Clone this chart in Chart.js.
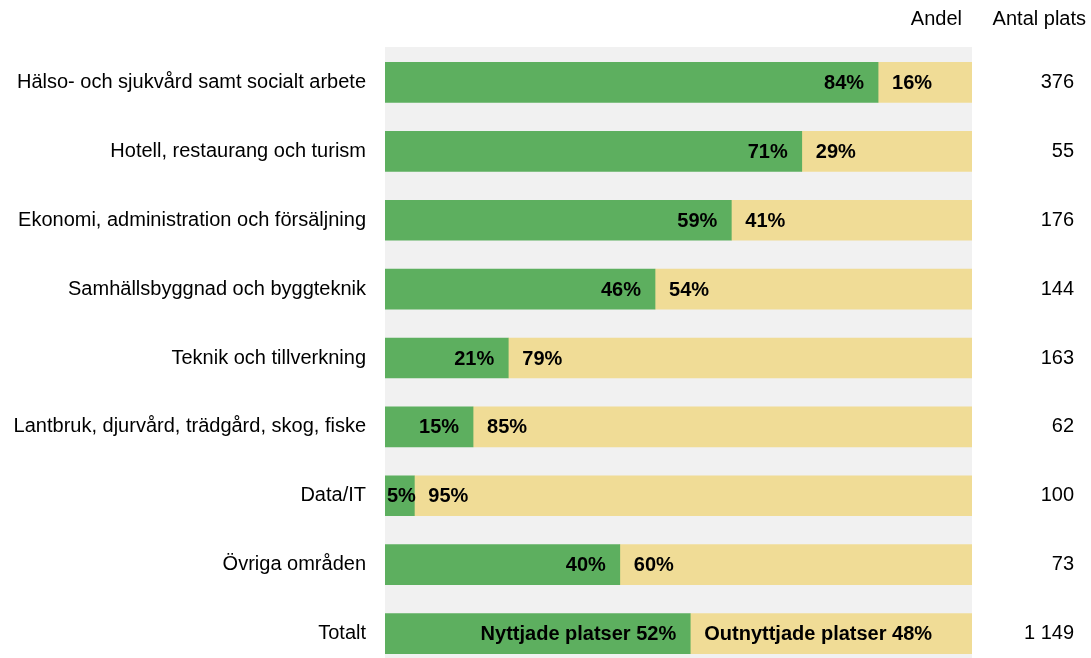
<!DOCTYPE html>
<html>
<head>
<meta charset="utf-8">
<script src="https://cdn.jsdelivr.net/npm/chart.js@4"></script>
<style>
  html, body { margin: 0; padding: 0; background: #fff; overflow: hidden; }
  #wrap { width: 1091px; height: 658px; overflow: hidden; }
</style>
</head>
<body>
<div id="wrap"><canvas id="chart" width="1091" height="699"></canvas></div>
<script>
// data
const categories = [
  "Hälso- och sjukvård samt socialt arbete",
  "Hotell, restaurang och turism",
  "Ekonomi, administration och försäljning",
  "Samhällsbyggnad och byggteknik",
  "Teknik och tillverkning",
  "Lantbruk, djurvård, trädgård, skog, fiske",
  "Data/IT",
  "Övriga områden",
  "Totalt"
];
const usedShare = [84, 71, 59, 46, 21, 15, 5, 40, 52];
const unusedShare = [16, 29, 41, 54, 79, 85, 95, 60, 48];
const placeCounts = ["376", "55", "176", "144", "163", "62", "100", "73", "1 149"];
const seriesNames = ["Nyttjade platser", "Outnyttjade platser"];
const headers = ["Andel", "Antal plats"];

const FONT = "'Liberation Sans', Arial, Helvetica, sans-serif";
const GREEN = "#5daf5f";
const YELLOW = "#f0dc96";

// gray band behind the bars
const bgPlugin = {
  id: "bgBand",
  beforeDraw(chart) {
    const { ctx, chartArea } = chart;
    ctx.save();
    ctx.fillStyle = "#f1f1f1";
    ctx.fillRect(chartArea.left, chartArea.top - 1, chartArea.right - chartArea.left, chartArea.bottom - chartArea.top + 1);
    ctx.restore();
  }
};

// percent labels on bars, headers and the right count column
const labelPlugin = {
  id: "barLabels",
  afterDatasetsDraw(chart) {
    const { ctx } = chart;
    const last = categories.length - 1;
    ctx.save();
    ctx.font = "bold 20px " + FONT;
    ctx.fillStyle = "#000";
    ctx.textBaseline = "middle";

    chart.getDatasetMeta(0).data.forEach((bar, i) => {
      let txt = usedShare[i] + "%";
      if (i === last) txt = seriesNames[0] + " " + txt;
      const w = ctx.measureText(txt).width;
      const x = Math.max(bar.x - 14, bar.base + w + 2);
      ctx.textAlign = "right";
      ctx.fillText(txt, x, bar.y + 1);
    });
    chart.getDatasetMeta(1).data.forEach((bar, i) => {
      let txt = unusedShare[i] + "%";
      if (i === last) txt = seriesNames[1] + " " + txt;
      ctx.textAlign = "left";
      ctx.fillText(txt, bar.base + 14, bar.y + 1);
    });

    // right column
    ctx.font = "20px " + FONT;
    ctx.textAlign = "right";
    chart.getDatasetMeta(0).data.forEach((bar, i) => {
      ctx.fillText(placeCounts[i], 1074, bar.y);
    });

    // headers
    ctx.fillText(headers[0], 962, 19);
    ctx.fillText(headers[1], 1086, 19);
    ctx.restore();
  }
};

new Chart(document.getElementById("chart"), {
  type: "bar",
  data: {
    labels: categories,
    datasets: [
      { label: seriesNames[0], data: usedShare, backgroundColor: GREEN, barThickness: 40 },
      { label: seriesNames[1], data: unusedShare, backgroundColor: YELLOW, barThickness: 40 }
    ]
  },
  options: {
    indexAxis: "y",
    responsive: false,
    animation: false,
    layout: { padding: { top: 48, right: 119, bottom: 3, left: 0 } },
    plugins: { legend: { display: false }, tooltip: { enabled: false } },
    scales: {
      x: {
        stacked: true, min: 0, max: 100,
        display: false
      },
      y: {
        stacked: true,
        border: { display: false },
        grid: { display: false, drawTicks: false },
        ticks: {
          color: "#000",
          font: { family: FONT, size: 20 },
          padding: 19
        },
        afterFit(scale) { scale.width = 385; }
      }
    }
  },
  plugins: [bgPlugin, labelPlugin]
});
</script>
</body>
</html>
